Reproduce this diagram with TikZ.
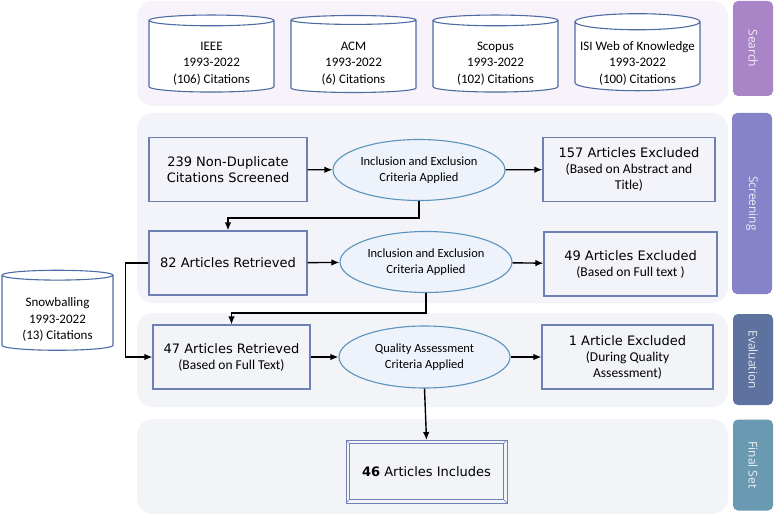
\documentclass[tikz,border=0pt]{standalone}
\usepackage{fontspec}
\setmainfont{DejaVu Sans}
\newfontfamily\calfont{Carlito}
\newfontfamily\tabfont{Open Sans}
\usetikzlibrary{shapes.geometric,arrows.meta,positioning}

\definecolor{bandpink}{HTML}{F8F3FA}
\definecolor{bandblue}{HTML}{F3F3FA}
\definecolor{bandgrey}{HTML}{F2F4F8}
\definecolor{tabsearch}{HTML}{A985C8}
\definecolor{tabscreen}{HTML}{8683C8}
\definecolor{tabeval}{HTML}{5E72A0}
\definecolor{tabfinal}{HTML}{6A9AB1}
\definecolor{boxline}{HTML}{6E80B4}
\definecolor{ellline}{HTML}{5A94BC}
\definecolor{ellfill}{HTML}{EEF2FA}
\definecolor{dbline}{HTML}{4D6CA3}

\newcommand{\subline}[1]{{\calfont\fontsize{13.5}{16}\selectfont #1}}
% database text, set a little below the middle of the cylinder
\newcommand{\dbtxt}[3]{\raisebox{-7pt}[\height][\depth]{\begin{tabular}{@{}c@{}}#1\\#2\\#3\end{tabular}}}

\tikzset{
  band/.style={fill=#1,rounded corners=16pt},
  tab/.style={fill=#1,rounded corners=5pt,text=white!85!#1,rotate=-90,inner sep=0pt,
    font=\tabfont\fontsize{12}{14}\selectfont},
  db/.style={cylinder,shape border rotate=90,draw=dbline,fill=white,line width=1.1pt,
    aspect=0.14,minimum width=125pt,minimum height=77pt,inner sep=0pt,
    font=\calfont\fontsize{13}{16.5}\selectfont},
  stagebox/.style={draw=boxline,fill=bandblue,line width=1.1pt,align=center,inner sep=0pt,
    minimum height=64pt,font=\fontsize{13}{16}\selectfont},
  crit/.style={ellipse,draw=ellline,fill=ellfill,line width=1.1pt,align=center,inner sep=0pt,
    minimum width=172pt,minimum height=61pt,font=\calfont\fontsize{12.5}{15.5}\selectfont},
  flow/.style={line width=1.4pt,-{Latex[length=8pt,width=6.5pt]}}
}

\begin{document}
\begin{tikzpicture}[x=1pt,y=-1pt]
\useasboundingbox (0,0) rectangle (778,516);

% bands and side tabs
\fill[band=bandpink] (137,1) rectangle (728,106);
\fill[band=bandblue] (137,113) rectangle (728,303);
\fill[band=bandgrey] (137,313) rectangle (728,407);
\fill[band=bandgrey] (137,419) rectangle (728,514);
\node[tab=tabsearch,minimum width=95pt,minimum height=40pt] (tsearch) at (753,48.5) {Search};
\node[tab=tabscreen,minimum width=181pt,minimum height=40pt] (tscreen) at (752,203.5) {Screening};
\node[tab=tabeval,minimum width=91pt,minimum height=40pt] (teval) at (753,359.5) {Evaluation};
\node[tab=tabfinal,minimum width=91pt,minimum height=40pt] (tfinal) at (753,465) {Final Set};

% databases
\node[db] (ieee) at (211.5,56.5) {\dbtxt{IEEE}{1993-2022}{(106) Citations}};
\node[db] (acm) at (353.5,56.5) {\dbtxt{ACM}{1993-2022}{(6) Citations}};
\node[db] (scopus) at (495.5,56.5) {\dbtxt{Scopus}{1993-2022}{(102) Citations}};
\node[db] (isi) at (637.5,56.5) {\dbtxt{ISI Web of Knowledge}{1993-2022}{(100) Citations}};
\node[db,minimum width=111pt,minimum height=80pt] (snow) at (57.5,313) {\dbtxt{Snowballing}{1993-2022}{(13) Citations}};

% screening
\node[stagebox,minimum width=158pt] (screened) at (228,169.5) {239 Non-Duplicate\\Citations Screened};
\node[crit] (crit1) at (419,170) {Inclusion and Exclusion\\Criteria Applied};
\node[stagebox,minimum width=172pt] (excl1) at (629,169.5) {157 Articles Excluded\\\subline{(Based on Abstract and}\\\subline{Title)}};
\node[stagebox,minimum width=158pt] (retr1) at (228,263) {82 Articles Retrieved};
\node[crit] (crit2) at (426,262) {Inclusion and Exclusion\\Criteria Applied};
\node[stagebox,minimum width=173pt] (excl2) at (630.5,264) {49 Articles Excluded\\\subline{(Based on Full text )}};

% evaluation
\node[stagebox,fill=bandgrey,minimum width=157pt] (retr2) at (231.5,357) {47 Articles Retrieved\\\subline{(Based on Full Text)}};
\node[crit,minimum width=171pt,minimum height=62pt] (qual) at (424.5,357) {Quality Assessment\\Criteria Applied};
\node[stagebox,fill=bandgrey,minimum width=171pt] (excl3) at (627.5,357) {1 Article Excluded\\\subline{(During Quality}\\\subline{Assessment)}};

% final set, framed twice
\node[stagebox,fill=bandgrey,line width=0.9pt,minimum width=154pt,minimum height=56pt] (final) at (426.5,471.5) {\textbf{46} Articles Includes};
\draw[boxline,line width=0.9pt] ([shift={(-3pt,3pt)}]final.north west) rectangle ([shift={(3pt,-3pt)}]final.south east);
\foreach \c/\dx/\dy in {north west/-3/3,north east/3/3,south west/-3/-3,south east/3/-3}
  \draw[boxline,line width=0.6pt] (final.\c) -- ([shift={(\dx pt,\dy pt)}]final.\c);

% connectors
\draw[flow] (screened) -- (crit1);
\draw[flow] (crit1) -- (excl1);
\draw[flow] (crit1.south) -- ++(0,17) -| (retr1.north);
\draw[flow] (retr1) -- (crit2);
\draw[flow] (crit2) -- (excl2);
\draw[flow] (crit2.south) -- ++(0,20) -| (retr2.north);
\draw[flow] (retr1.west) -- ++(-23,0) |- (retr2.west);
\draw[flow] (retr2) -- (qual);
\draw[flow] (qual) -- (excl3);
\draw[flow] (qual.south) -- ([yshift=3pt]final.north);
\end{tikzpicture}
\end{document}
